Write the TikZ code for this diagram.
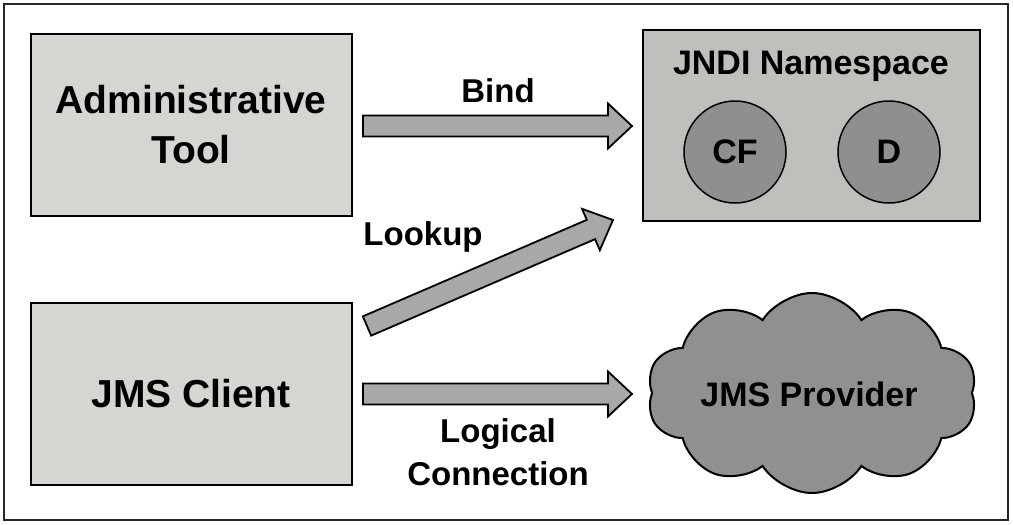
\documentclass[tikz,border=0pt]{standalone}
\usepackage{fontspec}
\setmainfont{Liberation Sans}
\usetikzlibrary{shapes.symbols,calc}
\definecolor{boxgray}{HTML}{D5D5D1}
\definecolor{nsgray}{HTML}{C0BFBB}
\definecolor{circgray}{HTML}{8F8F8F}
\definecolor{arrgray}{HTML}{A8A8A8}
\definecolor{cloudgray}{HTML}{909090}
\tikzset{
  box/.style={draw=black, line width=2pt, fill=boxgray, minimum width=321pt, minimum height=182pt,
    align=center, font=\fontsize{39}{50}\selectfont\bfseries, inner sep=0pt},
  nsbox/.style={draw=black, line width=2pt, fill=nsgray, minimum width=337pt, minimum height=191pt, inner sep=0pt},
  circ/.style={circle, draw=black, line width=1.5pt, fill=circgray, minimum size=102pt, inner sep=0pt,
    font=\fontsize{34}{40}\selectfont\bfseries},
  lbl/.style={font=\fontsize{33}{43}\selectfont\bfseries, align=center, inner sep=0pt},
  pics/barrow/.style={code={
    \draw[fill=arrgray, line width=1.8pt, line join=miter]
      (0,-10.5) -- ({#1-24},-10.5) -- ({#1-24},-22.5) -- (#1,0) -- ({#1-24},22.5) -- ({#1-24},10.5) -- (0,10.5) -- cycle;}},
}
\newcommand{\blockarr}[2]{%
  \path let \p1=(#1), \p2=(#2), \n1={atan2(\y2-\y1,\x2-\x1)}, \n2={veclen(\x2-\x1,\y2-\y1)}
    in pic[rotate=\n1] at (\p1) {barrow=\n2};}
\begin{document}
\begin{tikzpicture}[x=1pt,y=-1pt]
\useasboundingbox (0,0) rectangle (1013,525);
\draw[line width=2pt, draw=black!85] (4,4) rectangle (1008,520);

\node[box] (admin) at (191,125) {Administrative\\Tool};
\node[box] (client) at (191,394) {JMS Client};

\node[nsbox] (ns) at (811.5,125) {};
\node[font=\fontsize{34}{40}\selectfont\bfseries, anchor=base, inner sep=0pt] (nslbl) at (811,74) {JNDI Namespace};
\node[circ] (cf) at (735,152) {CF};
\node[circ] (d) at (889,152) {D};

\node[cloud, draw=black, line width=2pt, fill=cloudgray, cloud puffs=10, cloud puff arc=115,
      minimum width=330pt, minimum height=200pt, inner sep=0pt] (prov) at (812,393) {};
\node[font=\fontsize{34}{40}\selectfont\bfseries, anchor=base, inner sep=0pt] (provlbl) at (809,406) {JMS Provider};

\coordinate (bindS) at (363,126);
\coordinate (bindE) at (632,126);
\coordinate (lookS) at (367,326);
\coordinate (lookE) at (613,220);
\coordinate (logS) at (363,394);
\coordinate (logE) at (632,394);
\blockarr{bindS}{bindE}
\blockarr{lookS}{lookE}
\blockarr{logS}{logE}

\node[lbl, anchor=base] (bind) at (498,102) {Bind};
\node[lbl, anchor=base] (look) at (423,245) {Lookup};
\node[lbl, anchor=base] (logl) at (498,442) {Logical};
\node[lbl, anchor=base] (logc) at (498,485) {Connection};
\end{tikzpicture}
\end{document}
